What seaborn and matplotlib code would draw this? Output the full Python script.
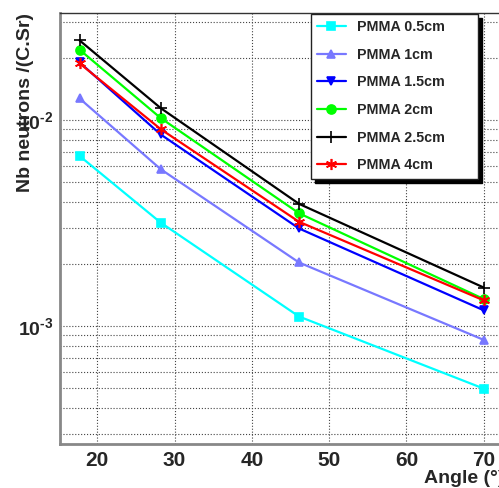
import matplotlib
matplotlib.use("Agg")
import matplotlib.pyplot as plt
import matplotlib.ticker as mticker
import seaborn as sns
import pandas as pd

# =========================================================
# DATA
# =========================================================

angles = [17.7, 28.2, 46.1, 70.0]

series_names = [
    "PMMA 0.5cm", "PMMA 1cm", "PMMA 1.5cm",
    "PMMA 2cm", "PMMA 2.5cm", "PMMA 4cm",
]

pmma_05 = [6.68e-3, 3.17e-3, 1.11e-3, 4.96e-4]
pmma_1 = [1.27e-2, 5.76e-3, 2.03e-3, 8.55e-4]
pmma_15 = [1.90e-2, 8.49e-3, 2.97e-3, 1.19e-3]
pmma_2 = [2.19e-2, 1.02e-2, 3.52e-3, 1.35e-3]
pmma_25 = [2.43e-2, 1.14e-2, 3.91e-3, 1.535e-3]
pmma_4 = [1.88e-2, 9.01e-3, 3.20e-3, 1.33e-3]

colors = ["#00ffff", "#7878ff", "#0000ff", "#00ff00", "#000000", "#ff0000"]
markers = ["s", "^", "v", "o", "+", (6, 2, 0)]
marker_sizes = [6, 6, 6, 6.5, 9, 8]

x_ticks = [20, 30, 40, 50, 60, 70]
y_ticks = [1e-3, 1e-2]
y_tick_labels = [r"$10^{\text{-3}}$", r"$10^{\text{-2}}$"]

# =========================================================
# LONG FORM TABLE
# =========================================================

all_values = [pmma_05, pmma_1, pmma_15, pmma_2, pmma_25, pmma_4]

rows = []
for name, vals in zip(series_names, all_values):
    for a, v in zip(angles, vals):
        rows.append({"angle": a, "value": v, "series": name})
df = pd.DataFrame(rows)

# =========================================================
# STYLE
# =========================================================

sns.set_style("white")
plt.rcParams["font.family"] = ["Liberation Sans", "DejaVu Sans"]
plt.rcParams["font.weight"] = "bold"
plt.rcParams["mathtext.fontset"] = "custom"
plt.rcParams["mathtext.rm"] = "Liberation Sans:bold"
plt.rcParams["mathtext.it"] = "Liberation Sans:bold"
plt.rcParams["mathtext.bf"] = "Liberation Sans:bold"

W, H = 499, 488
fig = plt.figure(figsize=(W / 100, H / 100), dpi=100)
ax = fig.add_axes([60 / W, 44 / H, 443 / W, 431 / H])

for name, c, m, ms in zip(series_names, colors, markers, marker_sizes):
    sns.lineplot(
        data=df[df["series"] == name],
        x="angle",
        y="value",
        color=c,
        marker=m,
        markersize=ms,
        markeredgecolor=c,
        markeredgewidth=1.2,
        linewidth=1.6,
        label=name,
        ax=ax,
    )

ax.set_yscale("log")
ax.set_xlim(15.17, 72.5)
ax.set_ylim(2.67e-4, 3.30e-2)

# =========================================================
# TICKS & GRID
# =========================================================

ax.set_xticks(x_ticks)
ax.set_xticklabels([str(t) for t in x_ticks])
ax.xaxis.set_minor_locator(mticker.MultipleLocator(2))

ax.set_yticks(y_ticks)
ax.set_yticklabels(y_tick_labels)
ax.yaxis.set_minor_locator(mticker.LogLocator(base=10, subs=range(2, 10)))
ax.yaxis.set_minor_formatter(mticker.NullFormatter())

ax.tick_params(axis="both", which="major", direction="in", length=10,
               width=1.2, color="#555555", labelsize=15)
ax.tick_params(axis="both", which="minor", direction="in", length=5,
               width=1, color="#555555")
ax.tick_params(axis="x", which="major", pad=5)
ax.tick_params(axis="y", which="major", pad=5, labelsize=14)

ax.xaxis.grid(True, which="major", linestyle=":", color="#444444", linewidth=0.8)
ax.yaxis.grid(True, which="both", linestyle=":", color="#444444", linewidth=0.8)

for side in ["left", "bottom"]:
    ax.spines[side].set_color("#888888")
    ax.spines[side].set_linewidth(2)
ax.spines["top"].set_color("#333333")
ax.spines["top"].set_linewidth(1)
ax.spines["right"].set_visible(False)

ax.set_xlabel("")
ax.set_ylabel("")

fig.text(26 / W, 1 - 13 / H, "Nb neutrons /(C.Sr)", rotation=90,
         ha="center", va="top", fontsize=14, fontweight="bold")
fig.text(424 / W, 5 / H, "Angle (°)", ha="left", va="baseline",
         fontsize=14, fontweight="bold")

# =========================================================
# LEGEND
# =========================================================

leg = ax.legend(
    loc="upper left",
    bbox_to_anchor=(0.566, 0.629, 0.377, 0.369),
    mode="expand",
    frameon=True,
    fancybox=False,
    shadow={"ox": 3, "oy": -3, "color": "black", "alpha": 1},
    edgecolor="#222222",
    labelspacing=0.95,
    handlelength=2.0,
    handletextpad=0.77,
    borderpad=0.45,
    borderaxespad=0,
    prop={"weight": "bold", "size": 10.3},
)
leg.get_frame().set_linewidth(1)
leg.get_frame().set_alpha(1)

fig.savefig("out.png", dpi=100)
